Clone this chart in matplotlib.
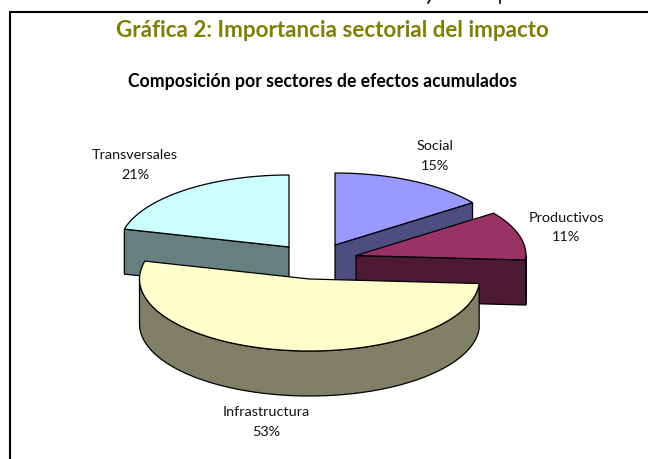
import numpy as np
import matplotlib
matplotlib.use("Agg")
import matplotlib.pyplot as plt
from matplotlib.patches import Polygon

plt.rcParams['font.family'] = ['Lato', 'DejaVu Sans']

sectors = ['Social', 'Productivos', 'Infrastructura', 'Transversales']
shares = [15, 11, 53, 21]
top_colors = ['#9999FF', '#993366', '#FFFFCC', '#CCFFFF']
wall_colors = ['#4D4D80', '#4D1A33', '#808066', '#668080']

# exploded slice tips and label anchors, in pixels of the 648x459 picture
tips = [(335, 245), (356, 255.5), (309.5, 279), (289, 247)]
label_pos = [(435, 156), (566, 227.5), (266, 422), (135, 165)]
RX, RY, DEPTH = 170, 72, 45


def rim(tip, a0, a1, n=80):
    # angles in degrees, clockwise from the top of the pie
    a = np.radians(np.linspace(a0, a1, n))
    return np.column_stack([tip[0] + RX * np.sin(a), tip[1] - RY * np.cos(a)])


def draw_slice(ax, tip, a0, a1, top, wall):
    down = np.array([0, DEPTH])
    tip = np.array(tip, dtype=float)
    # cut faces, only the ones turned to the viewer
    for a, sign in ((a0, -1), (a1, 1)):
        if sign * np.sin(np.radians(a)) > 1e-6:
            p = rim(tip, a, a, 1)[0]
            ax.add_patch(Polygon([tip, p, p + down, tip + down], fc=wall, ec='black', lw=0.9))
    # outer wall, front half only
    lo, hi = max(a0, 90), min(a1, 270)
    if lo < hi:
        r = rim(tip, lo, hi)
        ax.add_patch(Polygon(np.vstack([r, (r + down)[::-1]]), fc=wall, ec='black', lw=0.9))
    ax.add_patch(Polygon(np.vstack([tip, rim(tip, a0, a1)]), fc=top, ec='black', lw=0.9))


fig = plt.figure(figsize=(6.48, 4.59), dpi=100)
ax = fig.add_axes([0, 0, 1, 1])
ax.set_xlim(0, 648)
ax.set_ylim(459, 0)
ax.axis('off')

# sheet frame, open on the right and at the bottom of the crop
ax.plot([10, 10, 648], [459, 12, 12], color='black', lw=1.5, solid_joinstyle='miter')

# leftover tails of a line of text cropped away above the frame
ax.plot([430, 428], [0, 3], color='black', lw=1.2)
ax.plot([499.5, 499.5], [0, 3], color='black', lw=1.2)

ax.text(332, 30.5, 'Gráfica 2: Importancia sectorial del impacto', color='#808000',
        fontsize=16.1, fontweight='bold', ha='center', va='center')
ax.text(323, 81, 'Composición por sectores de efectos acumulados', color='black',
        fontsize=12.7, fontweight='bold', ha='center', va='center')

edges = np.cumsum([0] + shares) * 3.6
for i in [3, 0, 1, 2]:
    draw_slice(ax, tips[i], edges[i], edges[i + 1], top_colors[i], wall_colors[i])

for name, share, (x, y) in zip(sectors, shares, label_pos):
    ax.text(x, y, f'{name}\n{share}%', fontsize=10.4, color='#111111', ha='center', va='center',
            linespacing=1.72)

fig.savefig('out.png', dpi=100)
